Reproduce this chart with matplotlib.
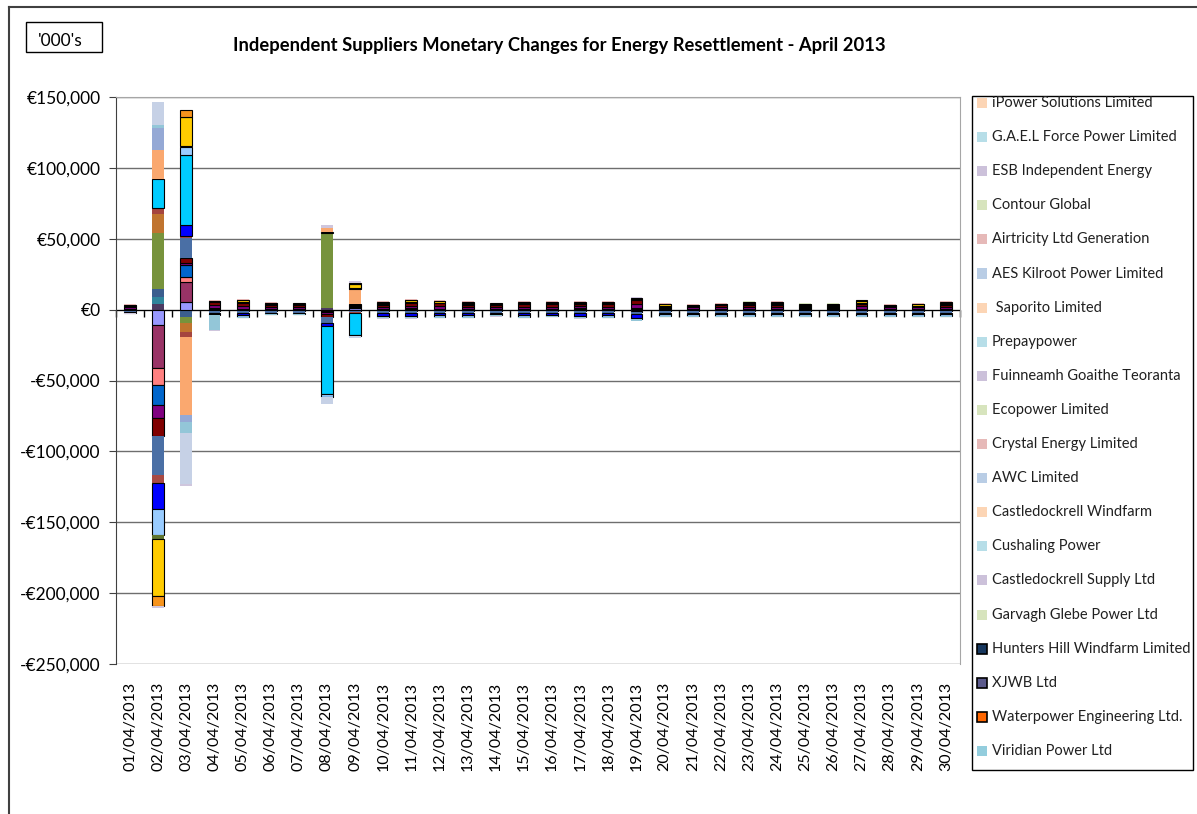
import matplotlib
matplotlib.use('Agg')
import matplotlib.pyplot as plt
from matplotlib.patches import Rectangle
from matplotlib.lines import Line2D
from matplotlib.ticker import FuncFormatter, MultipleLocator
import numpy as np

plt.rcParams['font.family'] = ['Lato', 'DejaVu Sans']

dates = ['01/04/2013', '02/04/2013', '03/04/2013', '04/04/2013', '05/04/2013',
         '06/04/2013', '07/04/2013', '08/04/2013', '09/04/2013', '10/04/2013',
         '11/04/2013', '12/04/2013', '13/04/2013', '14/04/2013', '15/04/2013',
         '16/04/2013', '17/04/2013', '18/04/2013', '19/04/2013', '20/04/2013',
         '21/04/2013', '22/04/2013', '23/04/2013', '24/04/2013', '25/04/2013',
         '26/04/2013', '27/04/2013', '28/04/2013', '29/04/2013', '30/04/2013']

# values in EUR thousands, one per day (01..30 April)
p0  = [0,   4.2,  0,    0,   0,   0,   0,   1.0,  0,    0,   0,   0,   0,   0,   0,   0,   0,   0,   0,   0,   0,   0,   0,   0,   0,   0,   0,   0,   0,   0]
l1  = [0,   5.0,  0,    0,   0,   0,   0,   0,    0,    0,   0,   0,   0,   0,   0,   0,   0,   0,  -0.8, 0,   0,   0,   0,   0,   0,   0,   0,   0,   0,   0]
l2  = [0,   5.0, -5.5,  0,   0,   0,   0,   0,    0,    0,   0,   0,   0,   0,   0,   0,   0,   0,   0,   0,   0,   0,   0,   0,   0,   0,   0,   0,   0,   0]
l3  = [0,  40.0, -4.0,  0,   0,   0,   0,  53.0,  0,    0,   0,   0,   0,   0,   0,   0,   0,   0,   0,   0,   0,   0,   0,   0,   0,   0,   0,   0,   0,   0]
l4  = [0,  13.4, -6.5,  0,   0,   0,   0,   0,    0,    0,   0,   0,   0,   0,   0,   0,   0,   0,   0,   0,   0,   0,   0,   0,   0,   0,   0,   0,   0,   0]
l5  = [0,   4.2, -3.6,  0,   0,   0,   0,   0,    0,    0,   0,   0,   0,   0,   0,   0,   0,   0,   0,   0,   0,   0,   0,   0,   0,   0,   0,   0,   0,   0]
e1  = [0.4, -11.0, 5.6, 0.4, 0.4, 0.4, 0.4, 0.5,  0.8,  0.4, 0.4, 0.4, 0.4, 0.4, 0.4, 0.4, 0.4, 0.4, 0.4, 0.4, 0.4, 0.4, 0.4, 0.4, 0.4, 0.4, 0.4, 0.4, 0.4, 0.4]
e2  = [0.3, -30.5, 14.0, 0.8, 0.3, 0.3, 0.3, 0,   0.8,  0.3, 0.7, 0.3, 0.3, 0.3, 0.3, 0.3, 0.7, 0.3, 0.8, 0.3, 0.3, 0.3, 0.3, 0.3, 0.3, 0.3, 0.3, 0.3, 0.3, 0.3]
e3  = [-0.4, -12.0, 3.5, -0.6, -0.6, -0.6, -0.6, -1.0, -0.8, -0.6, -0.6, -0.6, -0.6, -0.6, -0.6, -0.6, -0.6, -0.6, -0.6, -0.6, -0.6, -0.6, -0.6, -0.6, -0.6, -0.6, -0.6, -0.6, -0.6, -0.6]
e4  = [-0.4, -14.0, 8.5, -0.6, -0.6, -0.6, -0.6, -0.8, 0.8, -0.6, -0.6, -0.6, -0.6, -0.6, -0.6, -0.6, -0.6, -0.6, -0.6, -0.6, -0.6, -0.6, -0.6, -0.6, -0.6, -0.6, -0.6, -0.6, -0.6, -0.6]
e5  = [0.9, -9.0,  1.4, 2.1, 2.0, 1.2, 1.4, -1.5, 0.8,  1.4, 1.8, 1.9, 1.4, 1.4, 1.5, 1.5, 1.3, 1.5, 2.7, 0.7, 0.9, 1.2, 1.3, 1.3, 0.5, 0.7, 1.7, 0.9, 0.8, 1.3]
e6  = [0.9, -12.7, 3.5, 2.2, 2.1, 1.3, 1.4, -2.0, 0.9,  1.4, 1.9, 1.9, 1.4, 1.4, 1.5, 1.5, 1.3, 1.5, 2.8, 0.8, 0.9, 1.3, 1.4, 1.4, 0.6, 0.8, 1.7, 0.9, 0.9, 1.4]
e6b = [0,   0,    0,    0,   0,   0,   0,   0,   10.5,  0,   0,   0,   0,   0,   0,   0,   0,   0,   0,   0,   0,   0,   0,   0,   0,   0,   0,   0,   0,   0]
e7  = [-0.8, -27.5, 14.0, -1.0, -1.0, -1.0, -1.0, -4.0, -0.8, -1.0, -1.0, -1.0, -1.0, -1.0, -1.0, -1.0, -1.0, -1.0, -1.0, -1.0, -1.0, -1.0, -1.0, -1.0, -1.0, -1.0, -1.0, -1.0, -1.0, -1.0]
e8  = [0,  -5.6,  1.4,  0,   0,   0,   0,   0,   -0.5,  0,   0,   0,   0,   0,   0,   0,   0,   0,   0,   0,   0,   0,   0,   0,   0,   0,   0,   0,   0,   0]
e9  = [0, -18.3,  7.7, -0.6, -1.9, 0,  0,  -2.0,  0.7, -2.4, -2.4, -1.9, -1.9, -0.9, -1.9, -1.4, -2.4, -1.9, -3.1, -1.2, -1.2, -1.2, -1.2, -1.2, -1.2, -1.2, -1.2, -1.2, -1.2, -1.2]
e10 = [0.5, 20.4, 49.3, 0.5, 0.5, 0.5, 0.5, -48.0, -16.0, 0.5, 0.5, 0.5, 0.5, 0.5, 0.5, 0.5, 0.5, 0.5, 0.5, 0.5, 0.5, 0.5, 0.5, 0.5, 0.5, 0.5, 0.5, 0.5, 0.5, 0.5]
e11 = [-0.6, -18.3, 5.5, -0.8, -0.8, -0.8, -0.8, -2.0, -0.6, -0.8, -0.8, -0.8, -0.8, -0.8, -0.8, -0.8, -0.8, -0.8, -0.8, -0.8, -0.8, -0.8, -0.8, -0.8, -0.8, -0.8, -0.8, -0.8, -0.8, -0.8]
e12 = [0,  -2.8,  0.7,  0,   0,   0,   0,   0,    0,    0,   0,   0,   0,   0,   0,   0,   0,   0,   0,   0,   0,   0,   0,   0,   0,   0,   0,   0,   0,   0]
e13 = [0, -40.5, 21.0,  0,   1.2, 0.8, 0,  -0.6,  3.0,  1.0, 1.2, 1.0, 1.0, 0,   0.8, 0.8, 0.8, 0.8, 0.5, 1.0, 0,   0,   1.0, 1.0, 1.2, 0.8, 1.8, 0,   0.8, 1.0]
e14 = [0.4, -7.0, 5.0,  0.4, 0.4, 0.4, 0.4, 0,    0.7,  0.4, 0.4, 0.4, 0.4, 0.4, 0.4, 0.4, 0.4, 0.4, 0.4, 0.4, 0.4, 0.4, 0.4, 0.4, 0.4, 0.4, 0.4, 0.4, 0.4, 0.4]
l7  = [0,  20.4, -55.0, 0,   0,   0,   0,   3.0,  0,    0,   0,   0,   0,   0,   0,   0,   0,   0,   0,   0,   0,   0,   0,   0,   0,   0,   0,   0,   0,   0]
l8  = [0,  15.5, -5.0,  0,   0,   0,   0,   0,    0,    0,   0,   0,   0,   0,   0,   0,   0,   0,   0,   0,   0,   0,   0,   0,   0,   0,   0,   0,   0,   0]
l9  = [-0.5, 2.0, -7.7, -11.0, -0.8, -0.8, -0.8, 0, 0,  -0.8, -0.8, -0.8, -0.8, -0.8, -0.8, -0.8, -0.8, -0.8, -0.8, -0.8, -0.8, -0.8, -0.8, -0.8, -0.8, -0.8, -0.8, -0.8, -0.8, -0.8]
l10 = [0,  16.2, -36.0, 0,   0,   0,   0,  -5.0, -1.5,  0,   0,   0,   0,   0,   0,   0,   0,   0,   0,   0,   0,   0,   0,   0,   0,   0,   0,   0,   0,   0]
l11 = [-0.3, -1.4, -1.4, -0.3, -0.3, -0.3, -0.3, 2.5, 1.2, -0.3, -0.3, -0.3, -0.3, -0.3, -0.3, -0.3, -0.3, -0.3, 0.6, -0.3, -0.3, -0.3, -0.3, -0.3, -0.3, -0.3, -0.3, -0.3, -0.3, -0.3]
l12 = [0.6, 0,    0,    0.6, 0.6, 0.6, 0.6, 0,    0,    0.6, 0.6, 0.6, 0.6, 0.6, 0.6, 0.6, 0.6, 0.6, -0.5, 0.6, 0.6, 0.6, 0,   0.6, 0,   0,   0,   0.6, 0.6, 0.6]
l13 = [0,   0,    0,    0,   0,   0,   0,   0,    0,    0,   0,   0,   0,   0,   0,   0,   0,   0,   0,   0,   0,   0,   0.6, 0,   0.6, 0.6, 0,   0,   0,   0]

# stacking order, colour, black outline
series = [
    (p0, '#4D3B62', False), (l1, '#31859C', False), (l2, '#3B5E8E', False),
    (l3, '#77933C', False), (l4, '#C0742F', False), (l5, '#A5453F', False),
    (e1, '#9999FF', True), (e2, '#993366', True), (e3, '#FF8080', True),
    (e4, '#0066CC', True), (e5, '#800080', True), (e6, '#800000', True),
    (e6b, '#FAA86F', False), (e7, '#4A6FA5', False), (e8, '#A84A44', False),
    (e9, '#0000FF', True), (e10, '#00CCFF', True), (e11, '#99CCFF', True),
    (e12, '#5F7530', False), (e13, '#FFCC00', True), (e14, '#F7941D', True),
    (l7, '#FAA86F', False), (l8, '#95A9D5', False), (l9, '#93C6D8', False),
    (l10, '#C6D1E6', False), (l11, '#CFC6DD', False), (l12, '#E3B6B5', False),
    (l13, '#D4E2BC', False),
]

legend_names = ['iPower Solutions Limited', 'G.A.E.L Force Power Limited',
                'ESB Independent Energy', 'Contour Global', 'Airtricity Ltd Generation',
                'AES Kilroot Power Limited', ' Saporito Limited', 'Prepaypower',
                'Fuinneamh Goaithe Teoranta', 'Ecopower Limited', 'Crystal Energy Limited',
                'AWC Limited', 'Castledockrell Windfarm', 'Cushaling Power',
                'Castledockrell Supply Ltd', 'Garvagh Glebe Power Ltd',
                'Hunters Hill Windfarm Limited', 'XJWB Ltd', 'Waterpower Engineering Ltd.',
                'Viridian Power Ltd']
legend_colors = ['#FCD5B5', '#B7DEE8', '#CCC1DA', '#D7E4BD', '#E6B9B8', '#B9CDE5',
                 '#FCD5B5', '#B7DEE8', '#CCC1DA', '#D7E4BD', '#E6B9B8', '#B9CDE5',
                 '#FCD5B5', '#B7DEE8', '#CCC1DA', '#D7E4BD', '#17375E', '#5B5A8C',
                 '#FF6600', '#93CDDD']
legend_edges = [False] * 16 + [True, True, True, False]

title = 'Independent Suppliers Monetary Changes for Energy Resettlement - April 2013'

W, H = 1197, 814
fig = plt.figure(figsize=(W / 100, H / 100), dpi=100)
fig.patch.set_facecolor('white')
ax = fig.add_axes([116 / W, (H - 664) / H, (960 - 116) / W, (664 - 97) / H])

x = np.arange(len(dates))
pos = np.zeros(len(dates))
neg = np.zeros(len(dates))
for vals, col, bord in series:
    v = np.array(vals, dtype=float) * 1000.0
    m = v != 0
    b = np.where(v >= 0, pos, neg)
    ax.bar(x[m], v[m], 0.42, bottom=b[m], color=col,
           edgecolor='black' if bord else col, linewidth=0.8 if bord else 0.0,
           zorder=3)
    pos += np.where(v > 0, v, 0)
    neg += np.where(v < 0, v, 0)

ax.set_xlim(-0.5, len(dates) - 0.5)
ax.set_ylim(-250000, 150000)
ax.yaxis.set_major_locator(MultipleLocator(50000))
ax.yaxis.set_major_formatter(FuncFormatter(
    lambda v, _: ('-' if v < 0 else '') + '€{:,.0f}'.format(abs(v))))
ax.yaxis.grid(True, color='#6E6E6E', linewidth=1.0, zorder=0)
ax.set_axisbelow(True)

for s in ('top', 'right'):
    ax.spines[s].set_color('#A6A6A6')
ax.spines['left'].set_color('#404040')
ax.spines['bottom'].set_position(('data', 0))
ax.spines['bottom'].set_color('black')
ax.spines['bottom'].set_zorder(2)

ax.set_xticks(x)
ax.set_xticklabels(dates, rotation=90)
ax.set_xticks(np.arange(-0.5, len(dates), 1.0), minor=True)
ax.tick_params(axis='x', which='major', length=0, pad=268, labelsize=11.5)
ax.tick_params(axis='x', which='minor', length=5, direction='out', color='black', width=1)
ax.tick_params(axis='y', length=5, direction='out', pad=6, labelsize=12.5, color='#404040')

fig.text(559 / W, 1 - 46 / H, title, ha='center', va='center',
         fontsize=13.2, fontweight='bold')

fig.add_artist(Rectangle((26 / W, 1 - 52 / H), 76 / W, 30 / H, transform=fig.transFigure,
                         fill=False, edgecolor='black', linewidth=1))
fig.text(60 / W, 1 - 41 / H, "'000's", ha='center', va='center', fontsize=12.5)

# outer chart border
fig.add_artist(Line2D([9 / W, 9 / W], [1 - 7 / H, 0], transform=fig.transFigure,
                      color='#404040', linewidth=1.5))
fig.add_artist(Line2D([9 / W, 1], [1 - 7 / H, 1 - 7 / H], transform=fig.transFigure,
                      color='#404040', linewidth=1.5))

# legend
lx0, lx1, ly0, ly1 = 972, 1193, 96, 770
box = Rectangle((lx0 / W, 1 - ly1 / H), (lx1 - lx0) / W, (ly1 - ly0) / H,
                transform=fig.transFigure, fill=True, facecolor='white',
                edgecolor='black', linewidth=1)
fig.add_artist(box)
for i, (name, col, ed) in enumerate(zip(legend_names, legend_colors, legend_edges)):
    yc = 103 + 34.1 * i
    sw = Rectangle((977 / W, 1 - (yc + 5) / H), 10 / W, 10 / H, transform=fig.transFigure,
                   facecolor=col, edgecolor='black' if ed else col, linewidth=1.2 if ed else 0)
    fig.add_artist(sw)
    t = fig.text(992 / W, 1 - yc / H, name, ha='left', va='center', fontsize=10.5,
                 color='#202020')
    t.set_clip_path(box)

fig.savefig('out.png', dpi=100)
